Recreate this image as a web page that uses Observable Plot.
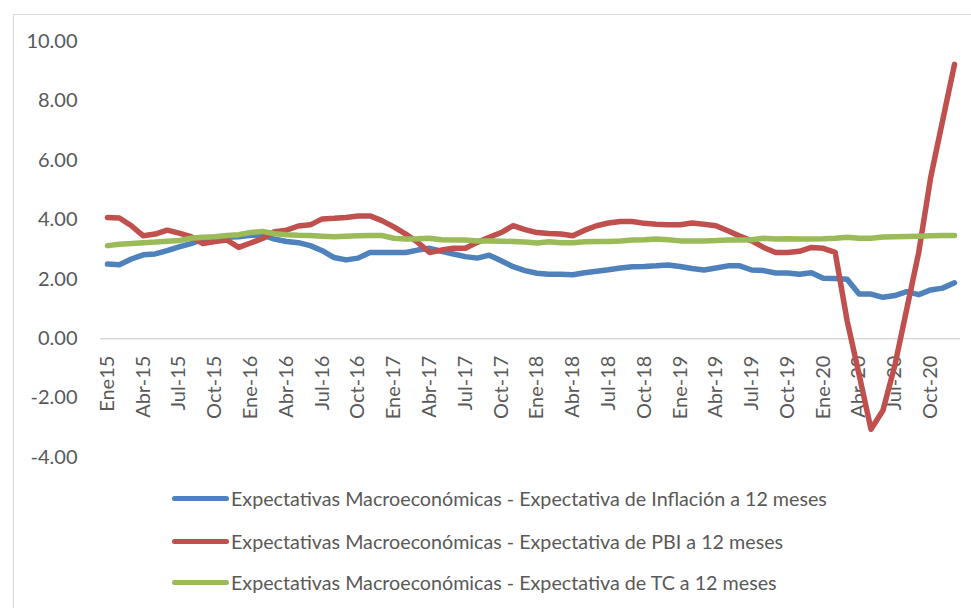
<!DOCTYPE html>
<html>
<head>
<meta charset="utf-8">
<script src="https://cdn.jsdelivr.net/npm/d3@7"></script>
<script src="https://cdn.jsdelivr.net/npm/@observablehq/plot@0.6"></script>
<style>
  html, body { margin: 0; padding: 0; background: #fff; }
  #wrap { position: relative; width: 971px; height: 608px; overflow: hidden; font-family: Lato, "Open Sans", sans-serif; }
  #frame { position: absolute; left: 13px; top: 14px; width: 2000px; height: 2000px; border-left: 1px solid #d9d9d9; border-top: 1px solid #d9d9d9; }
  #chart { position: absolute; left: 0; top: 0; }
  .row { position: absolute; left: 172px; height: 24px; display: flex; align-items: center; font-size: 19.7px; color: #595959; white-space: nowrap; font-family: Lato, sans-serif; }
  .sw { display: inline-block; width: 57px; height: 5px; border-radius: 3px; margin-right: 2px; }
</style>
</head>
<body>
<div id="wrap">
  <div id="frame"></div>
  <div id="chart"></div>
  <div id="legend"></div>
</div>
<script>
const months = ["Ene","Feb","Mar","Abr","May","Jun","Jul","Ago","Set","Oct","Nov","Dic"];
const years = [15,16,17,18,19,20];
const periods = years.flatMap(y => months.map(m => m + "-" + y));

const seriesNames = [
  "Expectativas Macroeconómicas - Expectativa de Inflación a 12 meses",
  "Expectativas Macroeconómicas - Expectativa de PBI a 12 meses",
  "Expectativas Macroeconómicas - Expectativa de TC a 12 meses"
];
const seriesColors = ["#4F81BD", "#C0504D", "#9BBB59"];

const inflacion = [2.51,2.49,2.68,2.82,2.85,2.96,3.09,3.20,3.35,3.41,3.41,3.43,
  3.48,3.48,3.35,3.27,3.23,3.13,2.96,2.73,2.65,2.71,2.90,2.90,
  2.90,2.90,2.98,3.04,2.94,2.85,2.76,2.71,2.81,2.62,2.42,2.29,
  2.20,2.17,2.17,2.15,2.22,2.27,2.32,2.38,2.42,2.43,2.45,2.48,
  2.43,2.36,2.31,2.38,2.45,2.45,2.31,2.29,2.21,2.21,2.17,2.22,
  2.03,2.02,2.00,1.50,1.50,1.39,1.45,1.58,1.48,1.64,1.70,1.88];
const pbi = [4.08,4.06,3.80,3.46,3.52,3.65,3.55,3.43,3.20,3.27,3.32,3.07,
  3.22,3.37,3.60,3.65,3.79,3.83,4.03,4.05,4.08,4.13,4.13,3.97,
  3.76,3.52,3.24,2.90,2.98,3.04,3.04,3.24,3.41,3.57,3.80,3.67,
  3.57,3.54,3.52,3.46,3.65,3.80,3.89,3.94,3.94,3.88,3.85,3.83,
  3.83,3.89,3.85,3.80,3.63,3.45,3.29,3.07,2.90,2.90,2.94,3.07,
  3.04,2.90,0.60,-1.20,-3.05,-2.42,-0.90,1.00,2.90,5.42,7.33,9.23];
const tc = [3.13,3.18,3.20,3.23,3.25,3.28,3.30,3.38,3.41,3.43,3.47,3.50,
  3.57,3.61,3.53,3.50,3.48,3.47,3.45,3.43,3.45,3.46,3.47,3.47,
  3.38,3.35,3.36,3.38,3.33,3.32,3.32,3.29,3.29,3.28,3.27,3.25,
  3.22,3.26,3.23,3.23,3.26,3.27,3.27,3.29,3.32,3.33,3.35,3.33,
  3.29,3.29,3.29,3.30,3.32,3.32,3.33,3.38,3.35,3.36,3.35,3.35,
  3.36,3.38,3.41,3.38,3.38,3.42,3.43,3.44,3.45,3.46,3.47,3.47];

const xTickLabels = ["Ene15","Abr-15","Jul-15","Oct-15","Ene-16","Abr-16","Jul-16","Oct-16",
  "Ene-17","Abr-17","Jul-17","Oct-17","Ene-18","Abr-18","Jul-18","Oct-18",
  "Ene-19","Abr-19","Jul-19","Oct-19","Ene-20","Abr-20","Jul-20","Oct-20"];
const yTicks = [-4,-2,0,2,4,6,8,10];

const allValues = [inflacion, pbi, tc];
const rows = allValues.flatMap((vals, s) => vals.map((v, i) => ({i, period: periods[i], v, s: seriesNames[s]})));
const tickRows = xTickLabels.map((label, k) => ({i: k * 3, label}));

const plot = Plot.plot({
  width: 971,
  height: 470,
  marginTop: 41,
  marginBottom: 13,
  marginLeft: 100,
  marginRight: 11,
  insetLeft: 7,
  insetRight: 6,
  style: {fontFamily: "Lato, 'Open Sans', sans-serif", color: "#595959", background: "transparent", overflow: "visible"},
  x: {type: "linear", domain: [0, periods.length - 1], axis: null},
  y: {domain: [-4, 10], axis: null},
  color: {domain: seriesNames, range: seriesColors},
  marks: [
    Plot.ruleY([0], {stroke: "#d9d9d9", strokeWidth: 1.5}),
    Plot.axisY(yTicks, {tickSize: 0, tickPadding: 23, tickFormat: v => v.toFixed(2), fontSize: 20, fill: "#595959", label: null}),
    Plot.text(tickRows, {x: "i", y: () => 0, text: "label", rotate: -90, textAnchor: "end", lineAnchor: "middle", dy: 17, fontSize: 20, fill: "#595959"}),
    Plot.line(rows, {x: "i", y: "v", z: "s", stroke: "s", strokeWidth: 5.5, strokeLinejoin: "round", strokeLinecap: "round"})
  ]
});
document.getElementById("chart").appendChild(plot);

const legend = document.getElementById("legend");
const rowTops = [486, 529, 570];
seriesNames.forEach((name, k) => {
  const r = document.createElement("div");
  r.className = "row";
  r.style.top = rowTops[k] + "px";
  const sw = document.createElement("span");
  sw.className = "sw";
  sw.style.background = seriesColors[k];
  r.appendChild(sw);
  r.appendChild(document.createTextNode(name));
  legend.appendChild(r);
});
</script>
</body>
</html>
